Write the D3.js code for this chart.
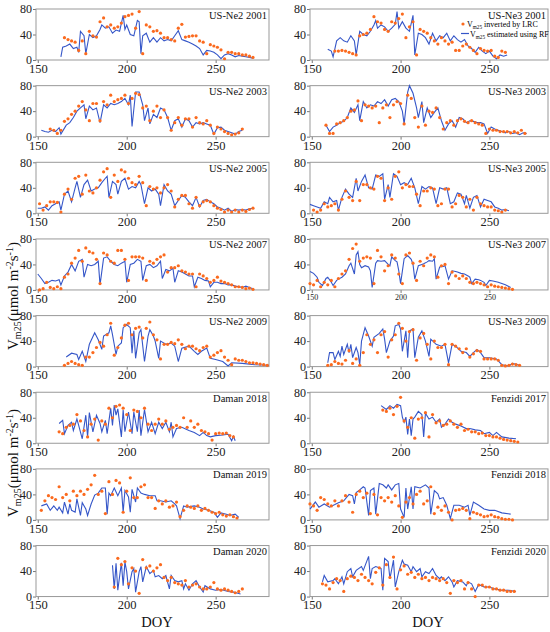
<!DOCTYPE html>
<html>
<head>
<meta charset="utf-8">
<script src="https://cdn.jsdelivr.net/npm/d3@7"></script>
<style>
  body { margin: 0; background: #fff; }
  text { font-family: "Liberation Serif", "Times New Roman", serif; }
</style>
</head>
<body>
<div id="chart"></div>
<script>
// panel titles: left column top to bottom, then right column
var panelTitles = ["US-Ne2 2001", "US-Ne2 2003", "US-Ne2 2005", "US-Ne2 2007", "US-Ne2 2009",
  "Daman 2018", "Daman 2019", "Daman 2020",
  "US-Ne3 2001", "US-Ne3 2003", "US-Ne3 2005", "US-Ne3 2007", "US-Ne3 2009",
  "Fenzidi 2017", "Fenzidi 2018", "Fenzidi 2020"];

var xTicks = [150, 200, 250];
var yTicks = [0, 40, 80];

// Vm25 estimated using RF: [DOY, value]
var rf_ne2_2001 = [[163,5],[164,20],[166,22],[168,25],[170,18],[172,20],[173,12],[174,45],[176,38],[177,10],[179,40],[181,35],[183,38],[185,48],[186,55],[188,50],[190,52],[192,42],[194,47],[196,45],[198,70],[199,48],[200,55],[202,40],[204,38],[206,62],[207,60],[208,10],[209,38],[211,42],[213,28],[215,35],[217,28],[219,35],[221,30],[223,32],[225,30],[227,38],[229,46],[231,32],[233,30],[235,28],[237,25],[239,22],[241,18],[243,8],[245,15],[247,14],[249,12],[251,8],[253,2],[255,8],[257,10],[259,8],[261,5],[263,7],[265,6],[267,5],[269,4],[271,3]];
var rf_ne2_2003 = [[152,10],[154,8],[156,7],[158,10],[160,8],[162,14],[163,4],[166,18],[168,22],[170,30],[172,40],[174,45],[176,50],[177,28],[179,48],[181,42],[183,45],[185,22],[187,50],[189,45],[191,52],[193,50],[195,52],[197,55],[199,60],[201,50],[202,65],[203,16],[205,70],[207,70],[209,50],[210,25],[212,45],[213,20],[215,35],[217,30],[219,45],[221,42],[223,30],[225,10],[227,25],[229,28],[231,15],[233,28],[235,25],[237,15],[239,22],[241,20],[243,22],[245,20],[247,18],[249,4],[251,14],[253,15],[255,10],[257,8],[259,6],[261,4],[263,8],[265,10]];
var rf_ne2_2005 = [[150,8],[152,8],[154,10],[156,5],[158,12],[160,15],[162,18],[163,5],[165,30],[167,35],[169,18],[171,40],[172,50],[174,25],[176,45],[178,52],[180,35],[182,38],[184,40],[186,48],[188,55],[189,58],[190,25],[192,50],[194,45],[195,30],[197,50],[199,55],[201,38],[203,42],[205,40],[207,50],[208,45],[210,15],[212,40],[214,35],[216,38],[218,30],[219,12],[221,45],[223,35],[225,30],[227,12],[229,20],[231,28],[233,25],[235,18],[237,12],[239,25],[241,10],[243,20],[245,22],[247,18],[249,15],[251,10],[253,8],[255,5],[257,8],[259,3],[261,6],[263,5],[265,6],[267,5],[269,7],[271,8]];
var rf_ne2_2007 = [[150,25],[152,18],[154,10],[156,12],[158,15],[160,14],[162,16],[163,8],[165,22],[167,28],[169,40],[171,30],[173,45],[175,48],[176,20],[178,40],[180,38],[182,40],[184,45],[185,8],[187,50],[189,52],[191,45],[193,40],[195,38],[197,42],[199,45],[200,12],[202,40],[204,42],[206,48],[208,45],[209,15],[211,38],[213,40],[215,35],[217,38],[219,45],[220,18],[222,32],[224,30],[226,34],[227,12],[229,30],[231,28],[233,25],[235,22],[237,22],[238,5],[240,20],[242,18],[244,15],[246,14],[247,5],[249,12],[251,12],[253,10],[255,10],[257,8],[259,8],[261,6],[263,5],[265,4],[267,6],[269,4],[271,2]];
var rf_ne2_2009 = [[166,15],[169,21],[172,19],[173,11],[175,24],[177,8],[179,35],[182,53],[184,42],[186,27],[187,48],[190,53],[191,64],[192,50],[194,19],[195,32],[197,37],[198,61],[200,66],[202,61],[203,21],[204,56],[205,13],[207,53],[208,58],[210,8],[212,48],[213,58],[215,48],[216,40],[218,13],[219,40],[222,35],[225,37],[227,32],[229,8],[231,29],[235,32],[238,24],[240,19],[242,24],[245,29],[247,13],[250,11],[254,8],[257,1],[259,6],[265,5],[272,3],[280,2]];
var rf_daman_2018 = [[162,31],[164,36],[165,15],[167,28],[169,33],[170,20],[172,38],[173,28],[175,7],[177,44],[178,10],[179,48],[181,18],[183,44],[185,31],[186,18],[188,36],[189,15],[191,55],[192,28],[193,60],[194,44],[195,54],[197,10],[198,52],[199,18],[201,49],[203,15],[204,49],[206,18],[207,52],[208,12],[210,53],[212,18],[214,33],[216,15],[218,33],[220,23],[222,33],[224,18],[225,33],[226,10],[228,23],[231,25],[235,20],[238,17],[241,12],[243,17],[245,12],[247,10],[250,12],[254,13],[257,14],[259,4],[260,11],[261,4]];
var rf_daman_2019 = [[152,22],[155,25],[157,15],[159,22],[161,15],[162,20],[164,11],[165,28],[167,9],[168,25],[169,15],[171,12],[172,33],[174,7],[175,27],[177,17],[178,7],[180,25],[182,39],[184,42],[186,50],[188,50],[189,9],[190,42],[191,38],[193,50],[195,38],[197,50],[198,12],[199,46],[201,36],[202,12],[203,48],[205,28],[206,50],[208,42],[210,40],[213,38],[216,38],[217,30],[219,30],[222,28],[225,30],[227,25],[228,22],[230,2],[232,22],[234,20],[238,22],[241,20],[243,17],[246,15],[249,12],[251,4],[253,11],[256,9],[258,7],[261,9],[263,4]];
var rf_daman_2020 = [[192,49],[193,12],[194,52],[195,10],[197,53],[198,17],[199,54],[200,39],[201,12],[203,39],[204,44],[205,7],[207,39],[208,47],[209,23],[211,47],[213,36],[215,41],[216,31],[218,33],[220,28],[222,33],[224,12],[225,33],[227,25],[229,23],[231,25],[232,12],[233,20],[235,10],[237,20],[239,25],[241,15],[243,7],[244,17],[247,12],[250,10],[253,11],[257,8],[260,7],[264,4]];
var rf_ne3_2001 = [[159,17],[161,14],[162,5],[164,30],[166,35],[168,30],[170,28],[172,38],[174,30],[175,8],[177,45],[179,40],[181,38],[183,45],[185,55],[186,62],[187,50],[189,55],[191,52],[193,45],[195,50],[197,56],[198,76],[199,50],[201,60],[203,50],[205,45],[207,70],[208,8],[210,42],[212,40],[214,35],[216,25],[218,42],[220,30],[222,38],[224,35],[226,42],[228,30],[230,38],[232,32],[234,28],[236,32],[238,22],[240,18],[242,12],[244,20],[246,14],[248,10],[250,14],[252,6],[254,2],[256,8],[258,6],[260,8]];
var rf_ne3_2003 = [[158,18],[160,8],[162,15],[164,18],[166,22],[168,24],[170,30],[172,45],[174,38],[176,50],[177,25],[179,55],[181,45],[183,50],[185,48],[187,55],[189,52],[191,58],[193,48],[195,58],[197,60],[199,55],[201,40],[202,20],[204,70],[205,80],[207,68],[209,45],[210,30],[212,55],[213,22],[215,45],[217,30],[219,38],[221,45],[223,25],[225,10],[227,20],[229,25],[231,15],[233,30],[235,28],[237,22],[239,25],[241,24],[243,22],[245,22],[247,20],[249,5],[251,15],[253,12],[255,10],[257,8],[259,6],[261,8],[263,5],[265,6],[267,3],[269,6],[271,5]];
var rf_ne3_2005 = [[149,14],[151,12],[153,10],[155,8],[157,18],[159,15],[160,25],[162,18],[164,20],[165,5],[167,25],[169,38],[171,30],[173,25],[175,55],[176,35],[178,50],[180,60],[182,40],[184,38],[186,60],[188,58],[190,62],[191,22],[193,45],[194,25],[196,62],[198,58],[200,45],[202,48],[204,45],[206,55],[208,40],[210,15],[212,42],[214,38],[216,42],[218,40],[220,15],[222,40],[224,38],[226,40],[228,15],[230,18],[232,32],[234,30],[236,15],[237,28],[239,8],[241,25],[243,28],[245,10],[247,22],[249,20],[251,18],[253,10],[255,8],[257,5],[259,6],[261,4]];
var rf_ne3_2007 = [[149,29],[151,26],[153,20],[154,12],[156,7],[158,18],[159,20],[161,12],[162,7],[164,15],[165,17],[167,20],[169,25],[171,38],[172,42],[174,25],[175,55],[176,60],[177,40],[178,35],[180,38],[182,36],[183,30],[184,4],[186,42],[187,46],[189,45],[191,46],[193,40],[194,38],[195,52],[197,46],[198,44],[199,30],[200,10],[202,49],[204,54],[206,48],[207,40],[208,17],[210,38],[212,40],[213,41],[215,44],[216,46],[218,45],[219,49],[220,17],[222,36],[224,37],[225,38],[227,17],[229,30],[231,29],[232,28],[234,26],[236,25],[238,22],[239,20],[240,10],[242,17],[244,16],[245,15],[247,12],[248,7],[250,15],[252,14],[255,12],[257,10],[259,8],[262,4]];
var rf_ne3_2009 = [[159,6],[160,22],[162,22],[163,11],[165,24],[166,16],[167,32],[168,19],[170,35],[171,22],[172,35],[173,14],[175,30],[176,22],[177,3],[178,40],[180,61],[182,48],[184,32],[185,46],[188,52],[190,59],[191,43],[192,22],[194,40],[196,48],[197,64],[199,66],[200,59],[201,24],[203,56],[204,14],[205,56],[207,59],[208,14],[210,46],[212,56],[214,40],[216,16],[217,43],[220,35],[223,32],[225,35],[227,6],[229,35],[231,32],[234,24],[237,22],[239,16],[241,22],[243,27],[245,22],[247,14],[250,14],[254,12],[257,3],[261,1],[263,5],[267,2]];
var rf_fen_2017 = [[189,59],[192,53],[194,59],[196,55],[198,61],[200,59],[201,41],[202,33],[203,41],[204,14],[205,38],[206,12],[207,38],[208,41],[210,50],[212,45],[213,10],[214,47],[216,38],[218,41],[220,33],[222,38],[223,25],[225,30],[227,38],[229,33],[231,30],[234,27],[237,23],[239,23],[242,21],[245,20],[247,15],[250,17],[252,12],[254,17],[257,10],[261,8],[265,7]];
var rf_fen_2018 = [[149,17],[152,28],[154,20],[157,25],[160,20],[163,24],[165,27],[168,30],[171,40],[173,38],[174,25],[175,43],[177,47],[179,52],[180,50],[182,7],[183,46],[185,50],[186,9],[188,57],[190,55],[192,50],[193,55],[195,47],[197,55],[199,57],[200,17],[202,4],[203,50],[204,17],[206,52],[207,17],[208,52],[211,50],[214,55],[216,50],[217,9],[219,46],[221,41],[222,33],[224,35],[226,23],[228,2],[230,23],[233,23],[236,20],[238,23],[239,7],[241,28],[244,23],[247,17],[250,15],[253,15],[257,11],[262,9]];
var rf_fen_2020 = [[156,23],[157,33],[159,23],[162,25],[163,28],[165,20],[167,31],[168,20],[170,39],[172,44],[173,31],[175,41],[178,47],[179,41],[182,63],[183,28],[184,44],[186,47],[189,44],[190,10],[191,60],[193,55],[194,28],[196,57],[197,15],[199,39],[201,57],[202,51],[204,49],[206,39],[207,47],[209,39],[211,44],[212,31],[214,39],[216,36],[218,44],[220,33],[222,28],[223,31],[225,25],[227,31],[229,23],[230,15],[232,25],[235,23],[237,17],[238,23],[240,20],[242,8],[244,19],[247,15],[250,15],[253,12],[257,10],[261,10],[265,8]];

// Vm25 inverted by LRC: values every 2 days from the start DOY below
var lrc_ne2_2001 = [35,32,30,28,15,30,10,45,38,36,60,66,52,55,50,52,58,68,70,72,50,76,10,55,52,45,46,42,35,35,32,30,50,56,36,37,38,38,30,28,10,24,22,20,16,2,12,12,10,10,8,8,6,4];
var lrc_ne2_2003 = [12,10,5,10,24,28,35,40,48,55,42,25,52,52,25,55,50,65,55,58,60,65,52,60,68,66,45,48,25,40,48,30,42,30,10,22,30,18,28,28,15,30,22,20,25,18,5,15,12,8,5,3,4,6,12];
var lrc_ne2_2005 = [15,5,12,18,18,17,2,30,38,22,55,58,30,60,35,32,40,52,65,70,25,60,50,68,65,55,48,45,58,48,12,42,38,40,32,40,45,35,10,22,28,28,15,8,25,12,18,20,18,12,8,6,2,5,2,5,2,5,3,6,8];
var lrc_ne2_2007 = [0,2,12,4,2,5,2,20,25,42,50,62,45,66,60,58,48,10,58,55,45,42,62,62,48,15,52,52,52,50,15,45,42,48,52,55,28,35,35,38,30,28,25,25,5,25,22,18,12,15,20,14,12,10,8,5,5,4,2,3,1];
var lrc_ne2_2009 = [2,5,8,5,3,2,15,15,22,30,38,32,50,68,18,30,45,65,68,50,60,62,45,60,70,50,42,12,35,35,38,36,42,35,28,32,32,28,25,30,32,15,18,22,25,15,10,3,12,10,10,8,6,6,5,4,3,2];
var lrc_daman_2018 = [18,15,25,28,30,45,35,20,10,30,38,5,35,30,55,40,58,60,55,45,20,52,50,40,55,30,20,30,38,30,35,22,25,28,25,40,25,35,25,30,20,18,15,5,15,16,15,16,12,10];
var lrc_daman_2019 = [15,30,38,35,32,52,35,40,30,45,38,45,40,48,55,70,40,45,10,60,40,62,58,12,45,66,35,35,52,55,35,35,18,30,25,30,20,22,28,5,15,22,20,18,22,15,18,15,12,10,12,8,6,8,5,3];
var lrc_daman_2020 = [15,60,50,55,20,45,40,5,58,45,48,40,45,50,30,25,30,22,20,18,25,15,18,20,15,12,12,15,22,12,10,12,10,8,6,8,12];
var lrc_ne3_2001 = [14,14,15,14,12,10,8,38,40,42,48,68,60,58,48,45,60,58,65,72,35,52,60,8,48,45,42,35,30,25,35,30,25,28,15,15,22,25,20,15,10,18,15,14,15,6,4,14,12];
var lrc_ne3_2003 = [18,5,5,20,22,25,30,40,42,56,25,50,48,45,48,22,45,50,30,50,55,52,20,65,60,30,15,48,18,40,38,45,30,12,22,25,18,25,28,24,22,25,22,20,18,5,12,10,10,8,8,8,6,8,6,10,5];
var lrc_ne3_2005 = [5,2,5,15,10,12,15,5,22,35,25,20,50,20,45,45,40,38,58,55,20,40,22,58,65,40,45,42,42,30,12,35,35,40,38,12,15,38,38,10,15,28,25,10,22,5,25,15,12,10,10,5,4,2,5];
var lrc_ne3_2007 = [10,8,15,5,12,8,15,5,18,25,30,48,65,72,45,50,52,50,10,62,52,30,38,55,50,25,10,55,58,42,15,45,38,50,55,52,20,38,40,10,28,22,18,22,18,12,10,12,10,8,5,8,6,5,4,3,2,1];
var lrc_ne3_2009 = [2,3,8,5,4,10,25,5,12,2,22,50,35,42,22,50,55,15,42,50,68,60,40,55,58,10,45,52,35,12,40,30,30,35,3,35,32,28,22,28,15,20,25,24,12,12,12,12,10,2,1,2,4,3,2];
var lrc_fen_2017 = [52,50,55,45,58,72,35,25,40,8,38,40,48,10,45,32,35,28,30,35,30,25,30,20,22,18,18,15,16,12,12,10,10,8,6,5,4,3,2];
var lrc_fen_2018 = [25,22,15,35,32,25,22,30,22,30,38,28,12,40,45,35,42,10,40,8,35,30,35,28,38,22,4,28,35,25,40,45,25,30,52,10,20,15,22,12,0,15,16,18,15,2,12,10,8,5,6,8,5,4,2,1,1,0];
var lrc_fen_2020 = [20,18,12,22,28,25,8,28,32,30,25,35,30,25,20,38,45,18,50,30,62,12,42,48,35,38,30,35,28,30,25,30,28,25,28,22,5,25,22,25,12,22,12,0,18,18,15,15,12,12,10,10,8,8,8];

var lrcStart = [165, 157, 151, 151, 165, 162, 152, 193, 163, 158, 151, 149, 159, 190, 149, 156];

var rfSeries = [rf_ne2_2001, rf_ne2_2003, rf_ne2_2005, rf_ne2_2007, rf_ne2_2009, rf_daman_2018, rf_daman_2019, rf_daman_2020,
  rf_ne3_2001, rf_ne3_2003, rf_ne3_2005, rf_ne3_2007, rf_ne3_2009, rf_fen_2017, rf_fen_2018, rf_fen_2020];
var lrcSeries = [lrc_ne2_2001, lrc_ne2_2003, lrc_ne2_2005, lrc_ne2_2007, lrc_ne2_2009, lrc_daman_2018, lrc_daman_2019, lrc_daman_2020,
  lrc_ne3_2001, lrc_ne3_2003, lrc_ne3_2005, lrc_ne3_2007, lrc_ne3_2009, lrc_fen_2017, lrc_fen_2018, lrc_fen_2020];

var blue = "#3556c8";
var orange = "#fb6a1e";
var serif = "'Liberation Serif', 'Times New Roman', serif";

var svg = d3.select("#chart")
  .append("svg")
  .attr("width", 550)
  .attr("height", 632);

// two columns of 8 panels
var cols = [
  { x0: 36, x1: 269, domain: [149, 280] },
  { x0: 310, x1: 548, domain: [149, 283] }
];
var rowTop0 = 9, rowStep = 76.65, panelH = 51;

panelTitles.forEach(function(title, i) {
  var c = cols[Math.floor(i / 8)];
  var top = rowTop0 + (i % 8) * rowStep;
  var g = svg.append("g");

  var x = d3.scaleLinear().domain(c.domain).range([c.x0, c.x1]);
  var y = d3.scaleLinear().domain([0, 80]).range([top + panelH, top]);

  // x axis (US-Ne3 2007 has tiny labels)
  var xa = g.append("g")
    .attr("transform", `translate(0, ${top + panelH})`)
    .call(d3.axisBottom(x).tickValues(xTicks).tickSize(3).tickPadding(1));
  xa.select(".domain").remove();
  xa.selectAll("line").attr("stroke", "#777");
  xa.selectAll("text")
    .attr("font-family", serif)
    .attr("font-size", i == 11 ? 8 : 12.5)
    .attr("fill", "#222");

  var ya = g.append("g")
    .attr("transform", `translate(${c.x0}, 0)`)
    .call(d3.axisLeft(y).tickValues(yTicks).tickSize(3).tickPadding(1));
  ya.select(".domain").remove();
  ya.selectAll("line").attr("stroke", "#777");
  ya.selectAll("text")
    .attr("font-family", serif)
    .attr("font-size", 12)
    .attr("fill", "#222");

  // frame
  g.append("rect")
    .attr("x", c.x0).attr("y", top)
    .attr("width", c.x1 - c.x0).attr("height", panelH)
    .attr("fill", "none")
    .attr("stroke", "#999")
    .attr("stroke-width", 1);

  var line = d3.line()
    .x(d => x(d[0]))
    .y(d => y(d[1]));

  g.append("path")
    .datum(rfSeries[i])
    .attr("d", line)
    .attr("fill", "none")
    .attr("stroke", blue)
    .attr("stroke-width", 1.1);

  var dots = lrcSeries[i].map((v, k) => [lrcStart[i] + 2 * k, v]);
  g.selectAll("circle")
    .data(dots)
    .enter()
    .append("circle")
    .attr("cx", d => x(d[0]))
    .attr("cy", d => y(d[1]))
    .attr("r", 1.6)
    .attr("fill", orange);

  g.append("text")
    .attr("x", c.x1 - 2)
    .attr("y", top + 9.5)
    .attr("text-anchor", "end")
    .attr("font-size", 10.5)
    .attr("fill", "#111")
    .text(title);
});

// legend inside US-Ne3 2001
function vm25(sel, size, rest) {
  sel.append("tspan").text("V");
  sel.append("tspan").attr("font-size", size * 0.65).attr("dy", size * 0.25).text("m25");
  sel.append("tspan").attr("dy", -size * 0.25).text(rest);
}
var lg = svg.append("g").attr("font-size", 8);
lg.append("circle").attr("cx", 463).attr("cy", 24).attr("r", 1.6).attr("fill", orange);
lg.append("text").attr("x", 467).attr("y", 27).call(vm25, 8, " inverted by LRC");
lg.append("line").attr("x1", 461).attr("x2", 469).attr("y1", 33.5).attr("y2", 33.5)
  .attr("stroke", blue).attr("stroke-width", 1.2);
lg.append("text").attr("x", 470).attr("y", 36.5).call(vm25, 8, " estimated using RF");

// y axis labels
[296, 463].forEach(function(cy) {
  var t = svg.append("text")
    .attr("transform", `translate(18, ${cy}) rotate(-90)`)
    .attr("text-anchor", "middle")
    .attr("font-size", 15)
    .attr("fill", "#111");
  t.append("tspan").text("V");
  t.append("tspan").attr("font-size", 10).attr("dy", 3).text("m25");
  t.append("tspan").attr("dy", -3).text("(μmol m");
  t.append("tspan").attr("font-size", 10).attr("dy", -5).text("-2");
  t.append("tspan").attr("dy", 5).text("s");
  t.append("tspan").attr("font-size", 10).attr("dy", -5).text("-1");
  t.append("tspan").attr("dy", 5).text(")");
});

// x axis titles
[157, 428].forEach(function(cx) {
  svg.append("text")
    .attr("x", cx)
    .attr("y", 627)
    .attr("text-anchor", "middle")
    .attr("font-size", 14.5)
    .attr("fill", "#111")
    .text("DOY");
});
</script>
</body>
</html>
